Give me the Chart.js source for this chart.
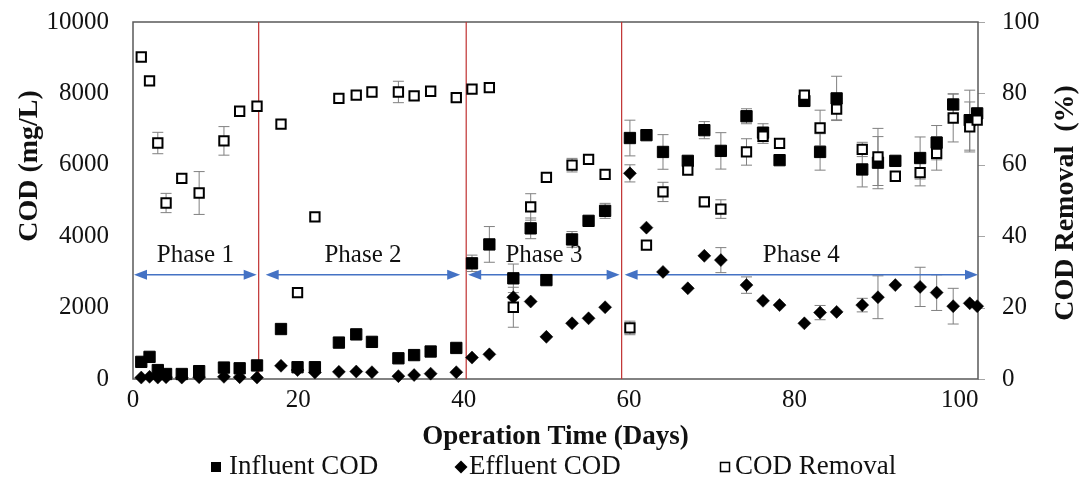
<!DOCTYPE html>
<html><head><meta charset="utf-8">
<script src="https://cdn.jsdelivr.net/npm/chart.js@4.4.0/dist/chart.umd.min.js"></script>
<style>html,body{margin:0;padding:0;background:#fff;}#wrap{width:1083px;height:482px;position:relative;}</style>
</head><body><div id="wrap"><canvas id="c"></canvas></div>
<script>
// ---- data ----
const days = [1.0, 2.0, 3.0, 4.0, 5.9, 8.0, 11.0, 12.9, 15.0,
  17.9, 19.9, 22.0, 24.9, 27.0, 28.9, 32.1, 34.0, 36.0, 39.1,
  41.0, 43.1, 46.0, 48.1, 50.0, 53.1, 55.1, 57.1,
  60.1, 62.1, 64.1, 67.1, 69.1, 71.1, 74.2, 76.2, 78.2, 81.2, 83.1, 85.1, 88.2, 90.1, 92.2, 95.2, 97.2, 99.2, 101.2, 102.1];
const influentCOD = [480, 620, 250, 140, 140, 220, 320, 300, 380,
  1400, 330, 330, 1020, 1250, 1040, 580, 670, 770, 870,
  3240, 3770, 2820, 4220, 2770, 3910, 4430, 4710,
  6750, 6830, 6360, 6110, 6970, 6390, 7360, 6900, 6130, 7790, 6360, 7860, 5870, 6060, 6110, 6190, 6620, 7690, 7250, 7440];
const effluentCOD = [40, 60, 40, 50, 40, 50, 60, 50, 40,
  370, 250, 180, 200, 210, 190, 80, 110, 150, 190,
  600, 690, 2290, 2170, 1180, 1560, 1700, 2010,
  5760, 4240, 3000, 2540, 3450, 3330, 2630, 2190, 2070, 1560, 1860, 1880, 2070, 2290, 2630, 2580, 2420, 2040, 2120, 2040];
const codRemoval = [90.2, 83.5, 66.1, 49.3, 56.2, 52.1, 66.7, 75.0, 76.4,
  71.4, 24.2, 45.4, 78.6, 79.5, 80.4, 80.4, 79.3, 80.6, 78.8,
  81.2, 81.6, 20.1, 48.2, 56.5, 59.9, 61.5, 57.3,
  14.3, 37.5, 52.4, 58.5, 49.6, 47.6, 63.6, 68.0, 66.0, 79.5, 70.3, 75.6, 64.3, 62.2, 56.8, 57.8, 63.2, 73.1, 70.6, 72.5];
const influentErr = [0, 0, 0, 0, 0, 0, 0, 0, 0,
  0, 0, 0, 0, 0, 0, 0, 0, 0, 0,
  230, 500, 400, 290, 0, 220, 0, 210,
  500, 0, 485, 0, 240, 510, 210, 250, 0, 0, 510, 620, 490, 730, 0, 590, 480, 300, 840, 0];
const effluentErr = [0, 0, 0, 0, 0, 0, 0, 0, 0,
  0, 0, 0, 0, 0, 0, 0, 0, 0, 0,
  0, 0, 0, 0, 0, 0, 0, 0,
  240, 0, 0, 0, 0, 350, 230, 0, 0, 0, 200, 0, 190, 600, 0, 550, 500, 500, 0, 0];
const removalErr = [0, 0, 3.0, 2.7, 0, 6.0, 4.0, 0, 0,
  0, 0, 0, 0, 0, 0, 3.0, 0, 0, 1.0,
  0, 0, 5.6, 3.7, 0, 1.9, 0, 0,
  1.9, 0, 2.7, 0, 0, 2.6, 3.7, 2.0, 0, 0, 5.0, 3.0, 2.0, 8.0, 0, 3.7, 4.7, 6.7, 7.0, 0];
const xTickValues = [0, 20, 40, 60, 80, 100];
const codTickValues = [0, 2000, 4000, 6000, 8000, 10000];
const removalTickValues = [0, 20, 40, 60, 80, 100];
const phaseBounds = [0, 15.2, 40.3, 59.1, 102.2];
const phaseLabels = ['Phase 1', 'Phase 2', 'Phase 3', 'Phase 4'];
const seriesNames = ['Influent COD', 'Effluent COD', 'COD Removal'];

// ---- chart ----
const FF = '"Liberation Serif", "Times New Roman", serif';
const pts = (arr) => days.map((d, i) => ({x: d, y: arr[i]}));
const ARROW_Y = 2920;

function arrowLine(ctx, x1, x2, y) {
  const hl = 13, hh = 5;
  ctx.beginPath(); ctx.moveTo(x1 + hl - 1, y); ctx.lineTo(x2 - hl + 1, y); ctx.stroke();
  ctx.beginPath(); ctx.moveTo(x1, y); ctx.lineTo(x1 + hl, y - hh); ctx.lineTo(x1 + hl, y + hh); ctx.closePath(); ctx.fill();
  ctx.beginPath(); ctx.moveTo(x2, y); ctx.lineTo(x2 - hl, y - hh); ctx.lineTo(x2 - hl, y + hh); ctx.closePath(); ctx.fill();
}

const annot = {
  id: 'annot',
  beforeDatasetsDraw(chart) {
    const {ctx, chartArea: a, scales: {x, y, y1}} = chart;
    ctx.save();
    // right-axis outward tick marks
    ctx.strokeStyle = '#a6a6a6'; ctx.lineWidth = 1;
    removalTickValues.forEach(v => {
      const py = Math.round(y1.getPixelForValue(v)) + 0.5;
      ctx.beginPath(); ctx.moveTo(a.right, py); ctx.lineTo(a.right + 7, py); ctx.stroke();
    });
    // frame
    ctx.strokeStyle = '#595959'; ctx.lineWidth = 1.5;
    ctx.strokeRect(a.left, a.top, a.right - a.left, a.bottom - a.top);
    // phase boundaries
    ctx.strokeStyle = '#c03030'; ctx.lineWidth = 1.2;
    phaseBounds.slice(1, -1).forEach(d => {
      const px = x.getPixelForValue(d);
      ctx.beginPath(); ctx.moveTo(px, a.top); ctx.lineTo(px, a.bottom); ctx.stroke();
    });
    // error bars
    ctx.strokeStyle = '#808080'; ctx.lineWidth = 1;
    const eb = (vals, errs, sc) => {
      vals.forEach((v, i) => {
        const e = errs[i]; if (!e) return;
        const px = x.getPixelForValue(days[i]);
        const pt = sc.getPixelForValue(v + e), pb = sc.getPixelForValue(v - e);
        ctx.beginPath();
        ctx.moveTo(px, pt); ctx.lineTo(px, pb);
        ctx.moveTo(px - 5.5, pt); ctx.lineTo(px + 5.5, pt);
        ctx.moveTo(px - 5.5, pb); ctx.lineTo(px + 5.5, pb);
        ctx.stroke();
      });
    };
    eb(influentCOD, influentErr, y);
    eb(effluentCOD, effluentErr, y);
    eb(codRemoval, removalErr, y1);
    // phase arrows and labels
    ctx.lineWidth = 1.5;
    const ay = y.getPixelForValue(ARROW_Y);
    const gaps = [[1, 2], [7, 6], [2, 2], [3, 0]];
    ctx.font = '25px ' + FF; ctx.textAlign = 'center'; ctx.textBaseline = 'alphabetic';
    for (let i = 0; i < 4; i++) {
      const x1 = x.getPixelForValue(phaseBounds[i]) + gaps[i][0];
      const x2 = x.getPixelForValue(phaseBounds[i + 1]) - gaps[i][1];
      ctx.strokeStyle = '#4472c4'; ctx.fillStyle = '#4472c4';
      arrowLine(ctx, x1, x2, ay);
      ctx.fillStyle = '#111';
      ctx.fillText(phaseLabels[i], (x1 + x2) / 2, ay - 13);
    }
    ctx.restore();
  },
  afterDraw(chart) {
    const {ctx} = chart;
    ctx.save();
    ctx.fillStyle = '#111';
    ctx.font = 'bold 28px ' + FF; ctx.textAlign = 'center'; ctx.textBaseline = 'middle';
    ctx.save(); ctx.translate(30, 166); ctx.rotate(-Math.PI / 2); ctx.fillText('COD (mg/L)', 0, 0); ctx.restore();
    ctx.save(); ctx.translate(1066, 203); ctx.rotate(-Math.PI / 2); ctx.fillText('COD Removal  (%)', 0, 0); ctx.restore();
    // legend
    const ly = 467;
    ctx.font = '27px ' + FF; ctx.textAlign = 'left'; ctx.textBaseline = 'middle';
    ctx.fillStyle = '#000';
    ctx.fillRect(211, ly - 5, 10, 10);
    ctx.fillStyle = '#111'; ctx.fillText(seriesNames[0], 229, ly);
    ctx.fillStyle = '#000';
    ctx.beginPath(); ctx.moveTo(461, ly - 6.5); ctx.lineTo(467.5, ly); ctx.lineTo(461, ly + 6.5); ctx.lineTo(454.5, ly); ctx.closePath(); ctx.fill();
    ctx.fillStyle = '#111'; ctx.fillText(seriesNames[1], 469, ly);
    ctx.strokeStyle = '#000'; ctx.lineWidth = 1.5;
    ctx.strokeRect(720.5, ly - 4.5, 9, 9);
    ctx.fillText(seriesNames[2], 735, ly);
    ctx.restore();
  }
};

const plain = v => String(v);

new Chart(document.getElementById('c'), {
  type: 'scatter',
  data: {
    datasets: [
      {label: seriesNames[0], data: pts(influentCOD), yAxisID: 'y', pointStyle: 'rect', radius: 8,
       backgroundColor: '#000', borderColor: '#000', borderWidth: 1, order: 1, clip: false},
      {label: seriesNames[1], data: pts(effluentCOD), yAxisID: 'y', pointStyle: 'rectRot', radius: 6.5,
       backgroundColor: '#000', borderColor: '#000', borderWidth: 0.5, order: 2, clip: false},
      {label: seriesNames[2], data: pts(codRemoval), yAxisID: 'y1', pointStyle: 'rect', radius: 6.6,
       backgroundColor: '#fff', borderColor: '#000', borderWidth: 2, order: 0, clip: false}
    ]
  },
  options: {
    responsive: true, maintainAspectRatio: false, animation: false, events: [],
    layout: {padding: {top: 22, left: 0, right: 0, bottom: 0}},
    plugins: {legend: {display: false}, tooltip: {enabled: false}},
    scales: {
      x: {
        type: 'linear', min: 0, max: phaseBounds[4],
        afterBuildTicks: s => { s.ticks = xTickValues.map(v => ({value: v})); },
        afterFit: s => { s.height = 103; },
        grid: {display: false, drawTicks: false}, border: {display: false},
        ticks: {padding: 6, color: '#111', font: {family: FF, size: 25}, maxRotation: 0, autoSkip: false, callback: plain},
        title: {display: true, text: 'Operation Time (Days)', color: '#111',
                font: {family: FF, size: 27, weight: 'bold'}, padding: {top: 0, bottom: 29}}
      },
      y: {
        position: 'left', min: 0, max: 10000,
        afterBuildTicks: s => { s.ticks = codTickValues.map(v => ({value: v})); },
        afterFit: s => { s.width = 133; },
        grid: {display: false, drawTicks: true, tickLength: 24}, border: {display: false},
        ticks: {padding: 0, color: '#111', font: {family: FF, size: 25}, callback: plain}
      },
      y1: {
        position: 'right', min: 0, max: 100,
        afterBuildTicks: s => { s.ticks = removalTickValues.map(v => ({value: v})); },
        afterFit: s => { s.width = 105; },
        grid: {display: false, drawTicks: true, tickLength: 24}, border: {display: false},
        ticks: {padding: 0, color: '#111', font: {family: FF, size: 25}, callback: plain}
      }
    }
  },
  plugins: [annot]
});
</script>
</body></html>
